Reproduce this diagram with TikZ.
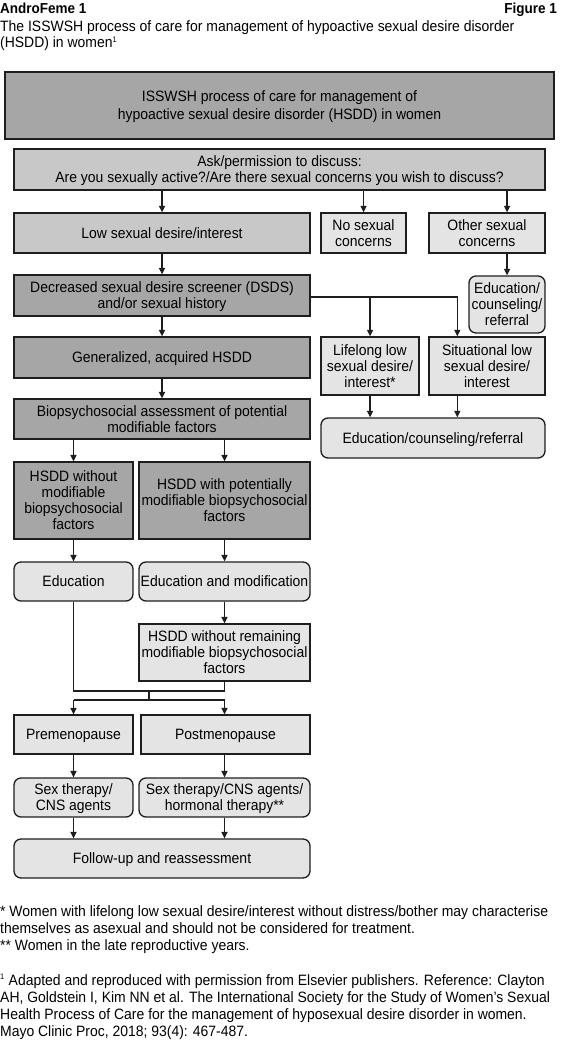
\documentclass[tikz,border=0pt]{standalone}
\usepackage{fontspec}
\setmainfont{Liberation Sans}[FakeStretch=0.93]
\usetikzlibrary{arrows.meta,calc}
\definecolor{gdark}{HTML}{A6A6A6}
\definecolor{gmid}{HTML}{C8C8C8}
\definecolor{glight}{HTML}{E4E4E4}
\definecolor{edge}{HTML}{1E1E1E}
\newcommand\fs{\fontsize{15}{16}\selectfont}
\tikzset{
  bx/.style={draw=edge, line width=1.3pt, align=center, inner sep=1pt, font=\fs, text depth=0pt},
  dark/.style={bx, fill=gdark},
  mid/.style={bx, fill=gmid},
  light/.style={bx, fill=glight},
  rnd/.style={light, rounded corners=7pt},
  sz/.style 2 args={minimum width=#1, minimum height=#2},
  arr/.style={draw=edge, line width=1.35pt, -{Triangle[length=6.5pt,width=6pt]}},
  ln/.style={draw=edge, line width=1.35pt},
  txt/.style={inner sep=0pt, font=\fs, anchor=base west},
}
\begin{document}
\begin{tikzpicture}[x=1pt,y=-1pt]
\useasboundingbox (0,0) rectangle (562,1054);
% header
\node[txt, font=\fontsize{14.5}{16}\selectfont\bfseries] (hA) at (0,14) {AndroFeme 1};
\node[txt, anchor=base east, font=\fontsize{14.5}{16}\selectfont\bfseries] (hF) at (557,14) {Figure 1};
\node[txt] (h1) at (0,32) {The ISSWSH process of care for management of hypoactive sexual desire disorder};
\node[txt] (h2) at (0,48) {(HSDD) in women\textsuperscript{\fontsize{8}{8}\selectfont 1}};
% boxes
\node[dark, sz={549}{67}, font=\fontsize{15}{18}\selectfont] (top) at (279.5,105.5) {ISSWSH process of care for management of\\hypoactive sexual desire disorder (HSDD) in women};
\node[mid, sz={531}{41}] (ask) at (279.5,169.5) {Ask/permission to discuss:\\Are you sexually active?/Are there sexual concerns you wish to discuss?};
\node[mid, sz={296}{40}] (low) at (162,233) {Low sexual desire/interest};
\node[light, sz={85}{40}] (nosex) at (363.5,233) {No sexual\\concerns};
\node[light, sz={116}{40}] (other) at (487,233) {Other sexual\\concerns};
\node[dark, sz={296}{41}] (dsds) at (162,295.5) {Decreased sexual desire screener (DSDS)\\and/or sexual history};
\node[rnd, sz={76}{57}] (edsmall) at (507,304.5) {Education/\\counseling/\\referral};
\node[dark, sz={296}{41}] (gen) at (162,357.5) {Generalized, acquired HSDD};
\node[light, sz={98}{58}] (life) at (370,366) {Lifelong low\\sexual desire/\\interest*};
\node[light, sz={116}{58}] (sit) at (487,366) {Situational low\\sexual desire/\\interest};
\node[dark, sz={296}{40}] (bio) at (162,419) {Biopsychosocial assessment of potential\\modifiable factors};
\node[rnd, sz={224}{40}] (edwide) at (433,438) {Education/counseling/referral};
\node[dark, sz={119}{77}] (hwo) at (73.5,500.5) {HSDD without\\modifiable\\biopsychosocial\\factors};
\node[dark, sz={171}{77}] (hwith) at (224.5,500.5) {HSDD with potentially\\modifiable biopsychosocial\\factors};
\node[rnd, sz={119}{39}] (edu) at (73.5,581.5) {Education};
\node[rnd, sz={171}{39}] (edmod) at (224.5,581.5) {Education and modification};
\node[light, sz={171}{57}] (hrem) at (224.5,652.5) {HSDD without remaining\\modifiable biopsychosocial\\factors};
\node[light, sz={119}{39}] (pre) at (73.5,734.5) {Premenopause};
\node[light, sz={169}{39}] (post) at (225.5,734.5) {Postmenopause};
\node[rnd, sz={119}{39}] (sexl) at (73.5,797.5) {Sex therapy/\\CNS agents};
\node[rnd, sz={171}{39}] (sexr) at (224.5,797.5) {Sex therapy/CNS agents/\\hormonal therapy**};
\node[rnd, sz={296}{39}] (follow) at (162,858.5) {Follow-up and reassessment};
% connector points
\coordinate (sitin) at ($(sit.north west)+(29,0)$);
\coordinate (jl) at (73.5,691);
\coordinate (jr) at (224.5,691);
\coordinate (jm) at (149,691);
\coordinate (sm) at (149,700);
\coordinate (sl) at (73.5,700);
\coordinate (sr) at (224.5,700);
% connectors
\draw[arr] (ask.south -| low.north) -- (low.north);
\draw[arr] (ask.south -| nosex.north) -- (nosex.north);
\draw[arr] (ask.south -| edsmall.north) -- (other.north -| edsmall.north);
\draw[arr] (other.south -| edsmall.north) -- (edsmall.north);
\draw[arr] (low.south) -- (dsds.north);
\draw[arr] (dsds.south) -- (gen.north);
\draw[arr] (gen.south) -- (bio.north);
\draw[arr] ([yshift=-1.5pt]dsds.east) -| (sitin);
\draw[arr] ([yshift=-1.5pt]dsds.east -| life.north) -- (life.north);
\draw[arr] (life.south) -- (edwide.north -| life.south);
\draw[arr] (sit.south -| sitin) -- (edwide.north -| sitin);
\draw[arr] (bio.south -| hwo.north) -- (hwo.north);
\draw[arr] (bio.south -| hwith.north) -- (hwith.north);
\draw[arr] (hwo.south) -- (edu.north);
\draw[arr] (hwith.south) -- (edmod.north);
\draw[arr] (edmod.south) -- (hrem.north);
\draw[ln] (edu.south) -- (jl) -- (jr) -- (hrem.south);
\draw[ln] (jm) -- (sm);
\draw[ln] (sl) -- (sr);
\draw[arr] (sl) -- (pre.north);
\draw[arr] (sr) -- (post.north -| sr);
\draw[arr] (pre.south) -- (sexl.north);
\draw[arr] (post.south -| sexr.north) -- (sexr.north);
\draw[arr] (sexl.south) -- (follow.north -| sexl.south);
\draw[arr] (sexr.south) -- (follow.north -| sexr.south);
% footnotes
\node[txt] (f1) at (0,916) {* Women with lifelong low sexual desire/interest without distress/bother may characterise};
\node[txt] (f2) at (0,933) {themselves as asexual and should not be considered for treatment.};
\node[txt] (f3) at (0,950) {** Women in the late reproductive years.};
\node[txt] (f4) at (0,985) {\textsuperscript{\fontsize{8}{8}\selectfont 1} Adapted and reproduced with permission from Elsevier publishers. Reference: Clayton};
\node[txt] (f5) at (0,1002) {AH, Goldstein I, Kim NN et al. The International Society for the Study of Women’s Sexual};
\node[txt] (f6) at (0,1019) {Health Process of Care for the management of hyposexual desire disorder in women.};
\node[txt] (f7) at (0,1036) {Mayo Clinic Proc, 2018; 93(4): 467-487.};
\end{tikzpicture}
\end{document}
